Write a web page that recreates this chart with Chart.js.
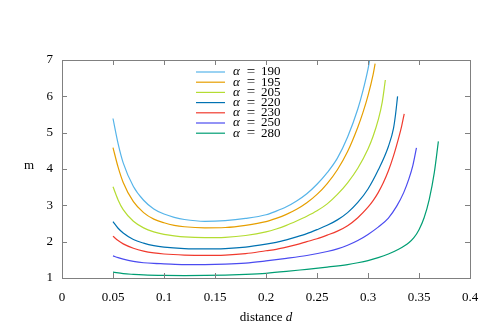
<!DOCTYPE html>
<html>
<head>
<meta charset="utf-8">
<script src="https://cdn.jsdelivr.net/npm/chart.js@4"></script>
<style>
  html, body { margin: 0; padding: 0; background: #fff; }
</style>
</head>
<body>
<canvas id="myChart" width="498" height="332"></canvas>
<script>
// curve data
const alphas = [190, 195, 205, 220, 230, 250, 280];
const colors = ['#56b4e9', '#e69f00', '#b4dc32', '#0072b2', '#f03a2e', '#4b4bf0', '#009e73'];

const d190 = [0.05,0.055,0.06,0.07,0.08,0.09,0.10,0.11,0.12,0.14,0.16,0.18,0.20,0.21,0.22,0.23,0.24,0.25,0.26,0.27,0.28,0.29,0.295,0.30,0.3015];
const m190 = [5.39,4.70,4.17,3.52,3.14,2.90,2.76,2.67,2.61,2.56,2.58,2.64,2.74,2.84,2.96,3.12,3.32,3.58,3.90,4.30,4.88,5.65,6.15,6.75,6.98];

const d195 = [0.05,0.055,0.06,0.07,0.08,0.09,0.10,0.11,0.12,0.14,0.16,0.18,0.20,0.21,0.22,0.23,0.24,0.25,0.26,0.27,0.28,0.29,0.295,0.30,0.305,0.307];
const m195 = [4.59,4.05,3.63,3.10,2.80,2.62,2.52,2.45,2.41,2.38,2.39,2.45,2.55,2.64,2.75,2.89,3.07,3.30,3.60,3.98,4.48,5.15,5.55,6.02,6.60,6.90];

const d205 = [0.05,0.055,0.06,0.07,0.08,0.09,0.10,0.11,0.12,0.14,0.16,0.18,0.20,0.21,0.22,0.23,0.24,0.25,0.26,0.27,0.28,0.29,0.30,0.305,0.31,0.314,0.317];
const m205 = [3.51,3.15,2.88,2.56,2.38,2.27,2.20,2.16,2.13,2.11,2.12,2.17,2.27,2.35,2.45,2.57,2.70,2.85,3.04,3.30,3.62,4.02,4.55,4.90,5.35,5.85,6.45];

const d220 = [0.05,0.055,0.06,0.07,0.08,0.09,0.10,0.12,0.14,0.16,0.18,0.20,0.21,0.22,0.23,0.24,0.25,0.26,0.27,0.28,0.29,0.30,0.31,0.32,0.325,0.327,0.329];
const m220 = [2.55,2.37,2.24,2.06,1.96,1.89,1.85,1.81,1.80,1.81,1.85,1.93,1.98,2.05,2.13,2.22,2.33,2.45,2.60,2.80,3.08,3.45,3.97,4.62,5.12,5.50,6.00];

const d230 = [0.05,0.055,0.06,0.07,0.08,0.09,0.10,0.12,0.14,0.16,0.18,0.20,0.21,0.22,0.23,0.24,0.25,0.26,0.27,0.28,0.29,0.30,0.305,0.31,0.315,0.32,0.325,0.33,0.333,0.3355];
const m230 = [2.15,2.03,1.94,1.82,1.74,1.69,1.66,1.63,1.62,1.63,1.67,1.75,1.79,1.85,1.92,2.00,2.08,2.18,2.29,2.44,2.66,2.95,3.13,3.35,3.62,3.95,4.36,4.85,5.18,5.52];

const d250 = [0.05,0.055,0.06,0.07,0.08,0.09,0.10,0.12,0.14,0.16,0.18,0.20,0.22,0.24,0.26,0.27,0.28,0.29,0.30,0.31,0.32,0.328,0.335,0.34,0.344,0.3475];
const m250 = [1.61,1.56,1.52,1.46,1.42,1.40,1.39,1.37,1.37,1.38,1.41,1.47,1.54,1.62,1.73,1.80,1.90,2.03,2.20,2.40,2.65,2.97,3.35,3.72,4.10,4.58];

const d280 = [0.05,0.06,0.07,0.08,0.10,0.12,0.14,0.16,0.18,0.20,0.22,0.24,0.26,0.28,0.29,0.30,0.31,0.32,0.33,0.34,0.345,0.35,0.355,0.36,0.365,0.369];
const m280 = [1.16,1.12,1.10,1.085,1.07,1.065,1.07,1.08,1.10,1.13,1.18,1.24,1.30,1.37,1.42,1.48,1.56,1.66,1.79,1.97,2.11,2.33,2.66,3.16,3.90,4.76];

const xTicks = [0, 0.05, 0.1, 0.15, 0.2, 0.25, 0.3, 0.35, 0.4];
const yTicks = [1, 2, 3, 4, 5, 6, 7];

const curves = [[d190, m190], [d195, m195], [d205, m205], [d220, m220], [d230, m230], [d250, m250], [d280, m280]];

const serif = '"Liberation Serif", "DejaVu Serif", serif';

// box, inward tick marks, legend and axis titles (gnuplot look)
const frame = {
  id: 'frame',
  afterDraw(chart) {
    const ctx = chart.ctx;
    const a = chart.chartArea;
    const xs = chart.scales.x, ys = chart.scales.y;
    ctx.save();
    ctx.strokeStyle = '#808080';
    ctx.lineWidth = 1;
    ctx.beginPath();
    xTicks.forEach(v => {
      const px = Math.round(xs.getPixelForValue(v)) + 0.5;
      ctx.moveTo(px, a.bottom); ctx.lineTo(px, a.bottom - 5);
      ctx.moveTo(px, a.top); ctx.lineTo(px, a.top + 5);
    });
    yTicks.forEach(v => {
      const py = Math.round(ys.getPixelForValue(v)) + 0.5;
      ctx.moveTo(a.left, py); ctx.lineTo(a.left + 5, py);
      ctx.moveTo(a.right, py); ctx.lineTo(a.right - 5, py);
    });
    ctx.stroke();
    ctx.strokeRect(Math.round(a.left) + 0.5, Math.round(a.top) + 0.5,
                   Math.round(a.right - a.left), Math.round(a.bottom - a.top));

    // legend
    ctx.textBaseline = 'middle';
    ctx.fillStyle = '#000';
    alphas.forEach((al, i) => {
      const y = 72 + i * 10.2;
      ctx.strokeStyle = colors[i];
      ctx.lineWidth = 1.2;
      ctx.beginPath();
      ctx.moveTo(196, y); ctx.lineTo(225, y);
      ctx.stroke();
      ctx.textAlign = 'left';
      ctx.font = 'italic 13px ' + serif;
      ctx.fillText('α', 233, y);
      ctx.textAlign = 'center';
      ctx.font = '15px ' + serif;
      ctx.fillText('=', 251, y);
      ctx.textAlign = 'left';
      ctx.font = '13px ' + serif;
      ctx.fillText(String(al), 261, y);
    });

    // axis titles
    ctx.font = '13px ' + serif;
    ctx.textAlign = 'left';
    const w1 = ctx.measureText('distance ').width;
    ctx.font = 'italic 13px ' + serif;
    const w2 = ctx.measureText('d').width;
    const x0 = 266 - (w1 + w2) / 2;
    ctx.font = '13px ' + serif;
    ctx.fillText('distance ', x0, 318);
    ctx.font = 'italic 13px ' + serif;
    ctx.fillText('d', x0 + w1, 318);
    ctx.font = '13px ' + serif;
    ctx.textAlign = 'center';
    ctx.fillText('m', 29, 166);
    ctx.restore();
  }
};

const config = {
  type: 'scatter',
  data: {
    datasets: curves.map((c, i) => ({
      label: 'α = ' + alphas[i],
      data: c[0].map((d, j) => ({ x: d, y: c[1][j] })),
      showLine: true,
      borderColor: colors[i],
      backgroundColor: colors[i],
      borderWidth: 1.2,
      pointRadius: 0,
      cubicInterpolationMode: 'monotone'
    }))
  },
  options: {
    responsive: false,
    animation: false,
    devicePixelRatio: 1,
    layout: { padding: { top: 60, right: 28, left: 0, bottom: 0 } },
    plugins: { legend: { display: false }, tooltip: { enabled: false } },
    scales: {
      x: {
        type: 'linear',
        min: 0, max: 0.4,
        afterFit: s => { s.height = 54; },
        afterBuildTicks: s => { s.ticks = xTicks.map(v => ({ value: v })); },
        grid: { display: false, drawTicks: false },
        border: { display: false },
        ticks: {
          padding: 12,
          color: '#000',
          font: { family: serif, size: 13 },
          maxRotation: 0,
          callback: v => String(+v.toFixed(2))
        }
      },
      y: {
        type: 'linear',
        min: 1, max: 7,
        afterFit: s => { s.width = 62; },
        afterBuildTicks: s => { s.ticks = yTicks.map(v => ({ value: v })); },
        grid: { display: false, drawTicks: false },
        border: { display: false },
        ticks: {
          padding: 9,
          color: '#000',
          font: { family: serif, size: 13 },
          callback: v => String(v)
        }
      }
    }
  },
  plugins: [frame]
};

var myChart = new Chart(document.getElementById('myChart'), config);
</script>
</body>
</html>
